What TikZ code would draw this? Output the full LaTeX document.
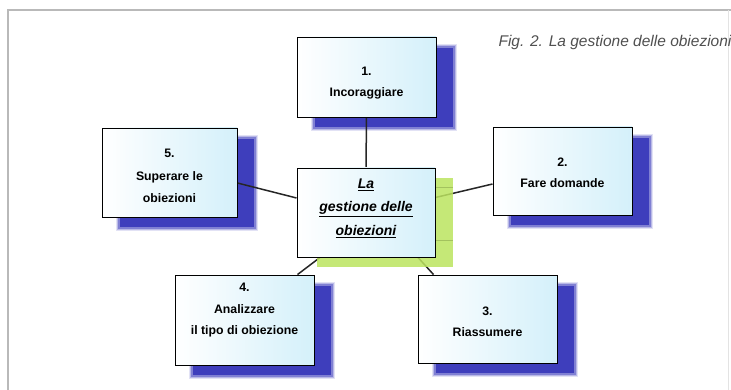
\documentclass[tikz,border=0pt]{standalone}
\usepackage{fontspec}
\setmainfont{Liberation Sans}
\definecolor{boxcyan}{RGB}{212,240,250}
\definecolor{shadowblue}{RGB}{62,62,188}
\definecolor{shadowgreen}{RGB}{188,228,96}
\definecolor{captiongray}{RGB}{80,80,80}
\definecolor{framegray}{RGB}{185,185,185}
\pgfdeclarelayer{bglayer}
\pgfdeclarelayer{shadowlayer}
\pgfdeclarelayer{connlayer}
\pgfdeclarelayer{greenlayer}
\pgfsetlayers{bglayer,shadowlayer,connlayer,greenlayer,main}
\newcommand\mkshadow[2]{%
  \foreach \e/\o in {3.5/0.15,2.5/0.25,1.2/0.45,0/1}{%
    \fill[#2,opacity=\o] ([xshift=18-\e, yshift=-11+\e]#1.north west) rectangle ([xshift=17+\e, yshift=-10-\e]#1.south east);}}
\begin{document}
\begin{tikzpicture}[x=1pt,y=-1pt,
  box/.style={draw=black, line width=0.9pt, left color=white, right color=boxcyan,
    minimum width=139pt, minimum height=88pt, inner sep=0pt, align=center,
    font=\fontsize{12.3}{21.5}\selectfont\bfseries},
  centerbox/.style={box, minimum width=138pt, minimum height=89pt,
    font=\fontsize{14}{23.5}\selectfont\bfseries\itshape},
  conn/.style={draw=black!85, line width=1.5pt},
  frameline/.style={draw=framegray, line width=1.6pt}]
\useasboundingbox (0,0) rectangle (731,390);
\begin{pgfonlayer}{bglayer}
\fill[white] (0,0) rectangle (731,390);
\end{pgfonlayer}
\draw[frameline] (8,390) -- (8,10) -- (731,10);
\draw[draw=framegray!40, line width=1pt] (728,10) -- (728,390);

\node[anchor=base west, text=captiongray, font=\fontsize{15.5}{18}\selectfont\itshape] (cap) at (495,47) {Fig. 2. La gestione delle obiezioni};

\node[box, minimum height=80pt, text height=42pt] (b1) at (366.5,77) {1.\\Incoraggiare};
\node[box, minimum width=135pt, minimum height=89pt, font=\fontsize{12.3}{22.5}\selectfont\bfseries, text height=61pt] (b5) at (169.5,172.5) {5.\\Superare le\\obiezioni};
\node[box, text height=33.5pt] (b2) at (562.5,171) {2.\\Fare domande};
\node[box, minimum height=90pt, text depth=22pt] (b4) at (244.5,320) {4.\\Analizzare\\il tipo di obiezione};
\node[box, text height=35.5pt] (b3) at (487.5,319) {3.\\Riassumere};
\node[centerbox, text depth=11pt] (c) at (366,212.5) {\underline{La}\\\underline{gestione delle}\\\underline{obiezioni}};

\begin{pgfonlayer}{shadowlayer}
  \mkshadow{b1}{shadowblue}
  \mkshadow{b5}{shadowblue}
  \mkshadow{b2}{shadowblue}
  \mkshadow{b4}{shadowblue}
  \mkshadow{b3}{shadowblue}
\end{pgfonlayer}

\begin{pgfonlayer}{connlayer}
  \draw[conn] (b1.south) -- (c.north);
  \draw[conn] ([yshift=-10.5]b5.east) -- ([yshift=14.5]c.west);
  \draw[conn] ([yshift=-13]b2.west) -- ([yshift=15]c.east);
  \draw[conn] ([xshift=-46]c.south) -- ([xshift=53]b4.north);
  \draw[conn] ([xshift=52]c.south) -- ([xshift=-54]b3.north);
\end{pgfonlayer}

\begin{pgfonlayer}{greenlayer}
  \fill[shadowgreen, opacity=0.85] ([xshift=20, yshift=-10]c.north west) rectangle ([xshift=18, yshift=-10]c.south east);
  \draw[shadowgreen!60!black, opacity=0.4, line width=0.6pt] ([yshift=-20]c.north east) -- ++(18,0);
  \draw[shadowgreen!60!black, opacity=0.4, line width=0.6pt] ([yshift=17]c.south east) -- ++(18,0);
\end{pgfonlayer}
\end{tikzpicture}
\end{document}
